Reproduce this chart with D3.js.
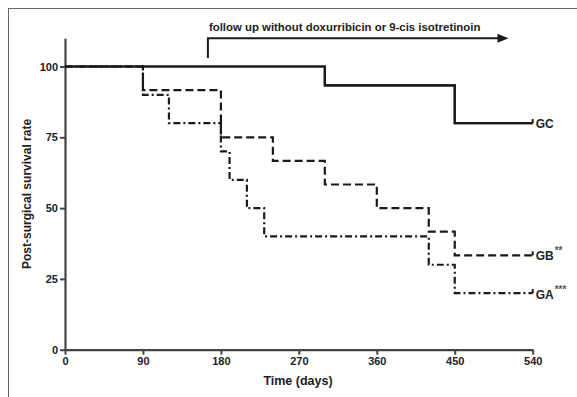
<!DOCTYPE html>
<html>
<head>
<meta charset="utf-8">
<script src="https://cdn.jsdelivr.net/npm/d3@7"></script>
<style>
  body { margin: 0; background: #fff; }
  text { font-family: "Liberation Sans", Arial, sans-serif; font-weight: bold; fill: #222; }
</style>
</head>
<body>
<div id="js_chart"></div>
<script>
// survival data (days, % surviving)
var gcTimes = [0, 300, 450, 540];
var gcSurv  = [100, 93.33, 80, 80];
var gbTimes = [0, 90, 180, 240, 300, 360, 420, 450, 540];
var gbSurv  = [100, 91.67, 75, 66.67, 58.33, 50, 41.67, 33.33, 33.33];
var gaTimes = [0, 90, 120, 180, 190, 210, 230, 420, 450, 540];
var gaSurv  = [100, 90, 80, 70, 60, 50, 40, 30, 20, 20];

var xTicks = [0, 90, 180, 270, 360, 450, 540];
var yTicks = [0, 25, 50, 75, 100];

var groupNames = ["GC", "GB", "GA"];
var groupStars = ["", "**", "***"];

// follow up arrow: starts at day 165, goes past end of axis
var arrowDays = [165, 512];
var arrowLevels = [103, 110];
var arrowText = "follow up without doxurribicin or 9-cis isotretinoin";

var W = 577, H = 397;

var svg = d3.select("#js_chart").append("svg")
  .attr("width", W)
  .attr("height", H);

// outer frame (top and left edges of the figure panel)
svg.append("line").attr("x1", 8).attr("y1", 8.5).attr("x2", W).attr("y2", 8.5)
  .attr("stroke", "#666").attr("stroke-width", 1);
svg.append("line").attr("x1", 8.5).attr("y1", 8).attr("x2", 8.5).attr("y2", H)
  .attr("stroke", "#666").attr("stroke-width", 1);

var x = d3.scaleLinear().domain([0, 540]).range([65, 532.7]);
var y = d3.scaleLinear().domain([0, 110]).range([349.7, 38.2]);

// axes
var xAxis = svg.append("g")
  .attr("transform", "translate(0," + y(0) + ")")
  .call(d3.axisBottom(x).tickValues(xTicks).tickSize(5).tickSizeOuter(0).tickPadding(3));
var yAxis = svg.append("g")
  .attr("transform", "translate(" + x(0) + ",0)")
  .call(d3.axisLeft(y).tickValues(yTicks).tickSize(5).tickSizeOuter(0).tickPadding(2));

[xAxis, yAxis].forEach(function (g) {
  g.select(".domain").attr("stroke", "#444").attr("stroke-width", 2.2);
  g.selectAll(".tick line").attr("stroke", "#444").attr("stroke-width", 2);
  g.selectAll(".tick text")
    .style("font-family", "'Liberation Sans', Arial, sans-serif")
    .style("font-weight", "bold")
    .style("font-size", "11px")
    .attr("fill", "#333");
});

// axis titles
svg.append("text")
  .attr("x", 298).attr("y", 385)
  .attr("text-anchor", "middle")
  .style("font-size", "12.5px")
  .text("Time (days)");

svg.append("text")
  .attr("transform", "translate(31," + (y(55)) + ") rotate(-90)")
  .attr("text-anchor", "middle")
  .style("font-size", "12px")
  .text("Post-surgical survival rate");

// survival curves
var line = d3.line()
  .x(function (d) { return x(d[0]); })
  .y(function (d) { return y(d[1]); })
  .curve(d3.curveStepAfter);

var series = [
  { t: gcTimes, s: gcSurv, dash: null },
  { t: gbTimes, s: gbSurv, dash: "8,4" },
  { t: gaTimes, s: gaSurv, dash: "7,3,2,3" }
];

series.forEach(function (ser, idx) {
  var pts = ser.t.map(function (t, i) { return [t, ser.s[i]]; });
  svg.append("path")
    .attr("d", line(pts))
    .attr("fill", "none")
    .attr("stroke", "#1a1a1a")
    .attr("stroke-width", 2.2)
    .attr("stroke-dasharray", ser.dash);

  // censor tick at the end of follow up
  var last = pts[pts.length - 1];
  svg.append("line")
    .attr("x1", x(last[0])).attr("x2", x(last[0]))
    .attr("y1", y(last[1])).attr("y2", y(last[1]) - 4)
    .attr("stroke", "#1a1a1a")
    .attr("stroke-width", 2);

  var lab = svg.append("text")
    .attr("x", x(last[0]) + 3)
    .attr("y", y(last[1]) + (idx === 2 ? 6 : 4.5))
    .style("font-size", "12px")
    .text(groupNames[idx]);
  if (groupStars[idx]) {
    lab.append("tspan")
      .attr("dy", -6)
      .attr("dx", 1)
      .style("font-size", "10px")
      .attr("fill", "#555")
      .text(groupStars[idx]);
  }
});

// redraw the solid curve on top so the shared start at 100% reads as solid
svg.append("path")
  .attr("d", line(gcTimes.map(function (t, i) { return [t, gcSurv[i]]; })))
  .attr("fill", "none")
  .attr("stroke", "#1a1a1a")
  .attr("stroke-width", 2.2);

// follow up arrow
svg.append("path")
  .attr("d", "M" + x(arrowDays[0]) + "," + y(arrowLevels[0]) +
             "V" + y(arrowLevels[1]) +
             "H" + (x(arrowDays[1]) - 9))
  .attr("fill", "none")
  .attr("stroke", "#1a1a1a")
  .attr("stroke-width", 2);

var ax = x(arrowDays[1]), ay = y(arrowLevels[1]);
svg.append("path")
  .attr("d", "M" + ax + "," + ay + "L" + (ax - 11) + "," + (ay - 4.5) + "L" + (ax - 11) + "," + (ay + 4.5) + "Z")
  .attr("fill", "#1a1a1a");

svg.append("text")
  .attr("x", x(arrowDays[0]) + 1)
  .attr("y", 31)
  .style("font-size", "11.4px")
  .text(arrowText);
</script>
</body>
</html>
